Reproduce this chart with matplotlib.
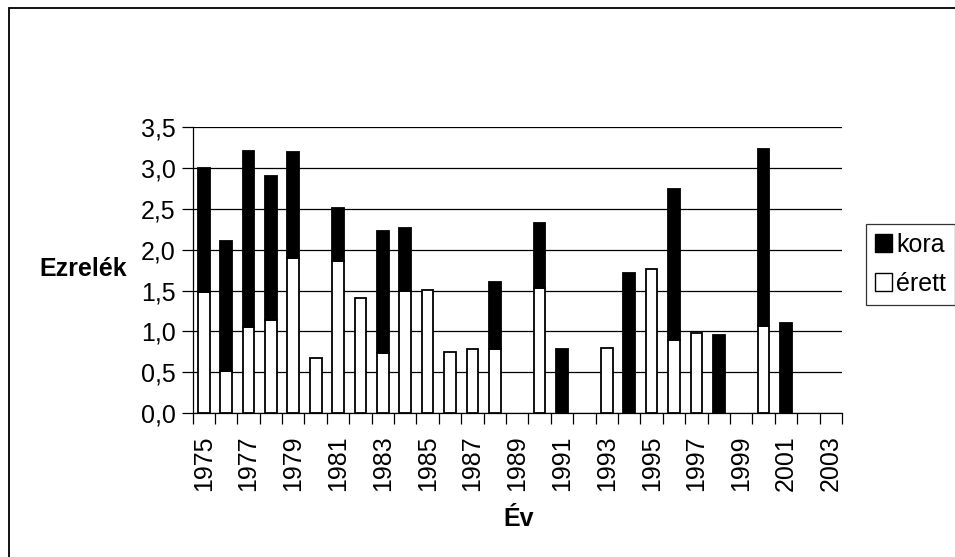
import numpy as np
import matplotlib
matplotlib.use("Agg")
import matplotlib.pyplot as plt
from matplotlib.patches import Patch, Rectangle

plt.rcParams['font.family'] = ['Liberation Sans', 'DejaVu Sans']

# === Data ===
years = list(range(1975, 2004))
totals = [3.00, 2.11, 3.21, 2.90, 3.20, 0.67, 2.51, 1.41, 2.23, 2.27,
          1.51, 0.75, 0.78, 1.60, 0.00, 2.33, 0.78, 0.00, 0.80, 1.72,
          1.76, 2.74, 0.98, 0.95, 0.00, 3.24, 1.10, 0.00, 0.00]
erett = [1.48, 0.51, 1.05, 1.14, 1.90, 0.67, 1.86, 1.41, 0.73, 1.50,
         1.51, 0.75, 0.78, 0.78, 0.00, 1.53, 0.00, 0.00, 0.80, 0.00,
         1.76, 0.90, 0.98, 0.00, 0.00, 1.06, 0.00, 0.00, 0.00]
kora = [round(t - e, 2) for t, e in zip(totals, erett)]
yticks = [0.0, 0.5, 1.0, 1.5, 2.0, 2.5, 3.0, 3.5]

FS = 18
W, H = 955, 557
fig = plt.figure(figsize=(W / 100, H / 100), dpi=100)
ax = fig.add_axes([192.5 / W, 1 - 413 / H, (842 - 192.5) / W, (413 - 127.3) / H])

x = np.arange(len(years))
bw = 0.52
erett_a = np.array(erett)
kora_a = np.array(kora)
m_e = erett_a > 0
m_k = kora_a > 0
ax.bar(x[m_e], erett_a[m_e], bw, color="white", edgecolor="black", linewidth=1.3, zorder=3)
ax.bar(x[m_k], kora_a[m_k], bw, bottom=erett_a[m_k], color="black", edgecolor="black",
       linewidth=1.3, zorder=3)

ax.set_xlim(-0.5, len(years) - 0.5)
ax.set_ylim(0, 3.5)
ax.set_yticks(yticks)
ax.set_yticklabels([f"{v:.1f}".replace(".", ",") for v in yticks], fontsize=FS)
ax.yaxis.grid(True, color="black", linewidth=0.9, zorder=0)
ax.set_axisbelow(True)

# category ticks between bars, labels on every other year
ax.set_xticks(np.arange(len(years) + 1) - 0.5)
ax.set_xticklabels([])
ax.set_xticks(x[::2], minor=True)
ax.set_xticklabels([str(y) for y in years[::2]], minor=True, rotation=90, fontsize=FS)
ax.tick_params(axis="x", which="minor", length=0, pad=16)
ax.tick_params(axis="x", which="major", length=8, width=0.9, direction="out")
ax.tick_params(axis="y", length=8, width=0.9, direction="out", pad=4)

for s in ["top", "right"]:
    ax.spines[s].set_visible(False)
ax.spines["left"].set_linewidth(0.9)
ax.spines["bottom"].set_linewidth(0.9)

fig.text(83 / W, 1 - 269 / H, "Ezrelék", fontsize=FS, fontweight="bold", ha="center", va="center")
fig.text(519 / W, 1 - 519 / H, "Év", fontsize=FS, fontweight="bold", ha="center", va="center")

handles = [Patch(facecolor="black", edgecolor="black", label="kora"),
           Patch(facecolor="white", edgecolor="black", label="érett")]
leg = fig.legend(handles=handles, loc="upper left", bbox_to_anchor=(866 / W, 1 - 224 / H),
                 fontsize=FS, frameon=True, fancybox=False, handlelength=0.7, handleheight=0.7,
                 handletextpad=0.15, borderpad=0.35, labelspacing=0.6, borderaxespad=0)
leg.get_frame().set_edgecolor("black")
leg.get_frame().set_linewidth(0.9)

# outer chart border (only top/left visible in the crop)
fig.patches.append(Rectangle((8.5 / W, -0.1), 1.2, 1.1 - 7.5 / H, transform=fig.transFigure,
                             fill=False, edgecolor="black", linewidth=1.3))

fig.savefig("out.png", dpi=100)
